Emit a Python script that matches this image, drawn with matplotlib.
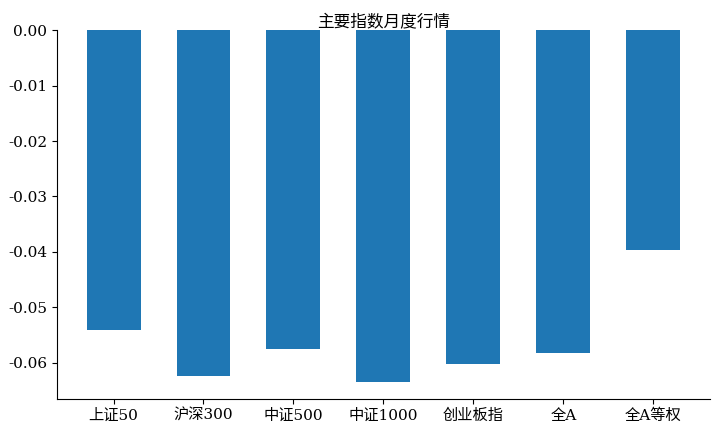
import matplotlib
matplotlib.use('Agg')
import matplotlib.pyplot as plt

plt.rcParams['font.family'] = ['DejaVu Serif', 'Noto Sans CJK SC']
plt.rcParams['axes.unicode_minus'] = False

indices = ['上证50', '沪深300', '中证500', '中证1000', '创业板指', '全A', '全A等权']
monthly_ret = [-0.0540, -0.0624, -0.0576, -0.0634, -0.0602, -0.0583, -0.0397]

fig = plt.figure(figsize=(7.2, 4.32), dpi=100)
ax = fig.add_axes([0.079, 0.076, 0.907, 0.854])
ax.bar(range(len(indices)), monthly_ret, width=0.6, color='#1f77b4')
ax.set_xticks(range(len(indices)))
ax.set_xticklabels(indices)
ax.set_yticks([0, -0.01, -0.02, -0.03, -0.04, -0.05, -0.06])
ax.set_yticklabels(['%.2f' % v for v in [0, -0.01, -0.02, -0.03, -0.04, -0.05, -0.06]])
ax.tick_params(labelsize=11)
ax.spines['top'].set_visible(False)
ax.spines['right'].set_visible(False)
ax.set_title('主要指数月度行情', fontsize=12, pad=2)

fig.savefig('out.png', dpi=100)
